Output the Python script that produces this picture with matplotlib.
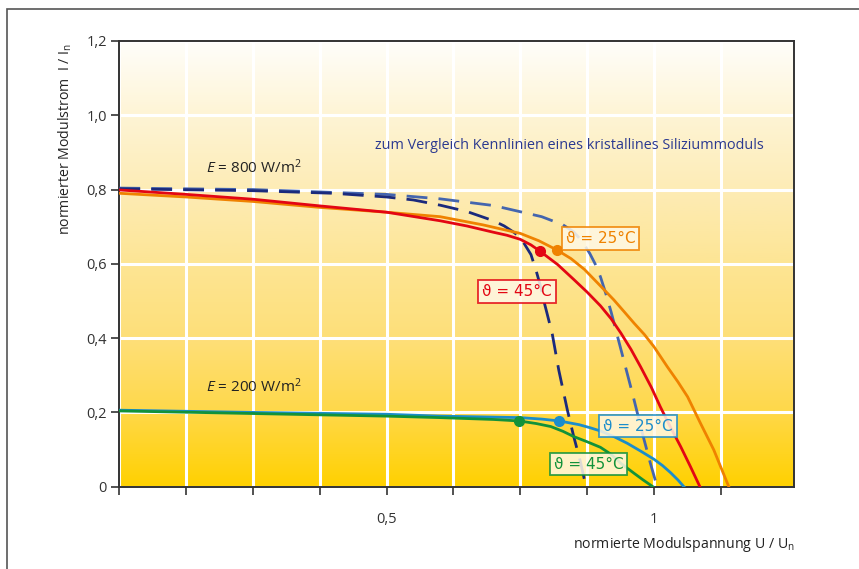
import matplotlib
matplotlib.use('Agg')
import matplotlib.pyplot as plt
import numpy as np
from matplotlib.colors import LinearSegmentedColormap
from matplotlib.patches import Rectangle

plt.rcParams['font.family'] = ['Open Sans', 'DejaVu Sans']
plt.rcParams['mathtext.fontset'] = 'custom'
plt.rcParams['mathtext.rm'] = 'Open Sans'
plt.rcParams['mathtext.it'] = 'Open Sans:italic'
plt.rcParams['mathtext.default'] = 'regular'

# thin-film module, E = 800 W/m2
u_800_25 = [0.0, 0.125, 0.25, 0.375, 0.5, 0.6, 0.68, 0.75, 0.785, 0.819, 0.845, 0.87, 0.895, 0.925,
            0.945, 0.963, 0.982, 1.0, 1.025, 1.045, 1.063, 1.087, 1.112, 1.14]
i_800_25 = [0.790, 0.780, 0.768, 0.752, 0.739, 0.727, 0.705, 0.682, 0.662, 0.637, 0.614, 0.585, 0.548, 0.503,
            0.470, 0.440, 0.410, 0.377, 0.323, 0.282, 0.242, 0.171, 0.099, 0.0]
u_800_45 = [0.0, 0.125, 0.25, 0.375, 0.5, 0.6, 0.65, 0.7, 0.725, 0.75, 0.77, 0.786, 0.82, 0.85, 0.875,
            0.9, 0.92, 0.938, 0.957, 0.975, 0.995, 1.012, 1.03, 1.05, 1.068, 1.086]
i_800_45 = [0.799, 0.787, 0.774, 0.756, 0.739, 0.716, 0.702, 0.685, 0.677, 0.666, 0.651, 0.635, 0.598, 0.558, 0.524,
            0.487, 0.452, 0.414, 0.370, 0.323, 0.268, 0.215, 0.163, 0.108, 0.055, 0.0]

# thin-film module, E = 200 W/m2
u_200_25 = [0.0, 0.25, 0.5, 0.6, 0.75, 0.79, 0.823, 0.86, 0.88, 0.9, 0.925, 0.95, 0.975, 1.0,
            1.016, 1.031, 1.045, 1.056]
i_200_25 = [0.206, 0.200, 0.195, 0.190, 0.186, 0.182, 0.177, 0.167, 0.159, 0.150, 0.135, 0.117, 0.096, 0.074,
            0.057, 0.038, 0.018, 0.0]
u_200_45 = [0.0, 0.25, 0.5, 0.6, 0.7, 0.748, 0.78, 0.807, 0.83, 0.85, 0.875, 0.9, 0.92, 0.938,
            0.963, 0.98, 0.998]
i_200_45 = [0.204, 0.197, 0.190, 0.186, 0.181, 0.177, 0.170, 0.162, 0.149, 0.135, 0.121, 0.106, 0.087, 0.063,
            0.036, 0.018, 0.0]

# crystalline silicon module for comparison (dashed)
u_krist_25 = [0.0, 0.25, 0.5, 0.6, 0.7, 0.79, 0.83, 0.85, 0.865, 0.88, 0.89, 0.9, 0.91, 0.92,
              0.93, 0.94, 0.96, 0.98, 0.993, 1.006]
i_krist_25 = [0.804, 0.800, 0.787, 0.775, 0.757, 0.727, 0.705, 0.686, 0.662, 0.628, 0.600, 0.565, 0.520, 0.470,
              0.415, 0.360, 0.250, 0.135, 0.065, 0.0]
u_krist_45 = [0.0, 0.25, 0.4, 0.5, 0.55, 0.6, 0.65, 0.7, 0.72, 0.74, 0.755, 0.77, 0.78, 0.788,
              0.795, 0.80, 0.81, 0.822, 0.838, 0.85, 0.862, 0.873]
i_krist_45 = [0.802, 0.797, 0.790, 0.780, 0.772, 0.758, 0.741, 0.716, 0.702, 0.683, 0.660, 0.625, 0.580, 0.539,
              0.495, 0.467, 0.410, 0.314, 0.207, 0.135, 0.070, 0.0]

# maximum power points
mpp_u = [0.819, 0.786, 0.823, 0.748]
mpp_i = [0.637, 0.635, 0.177, 0.177]

y_ticks = [0, 0.2, 0.4, 0.6, 0.8, 1.0, 1.2]
y_labels = ['0', '0,2', '0,4', '0,6', '0,8', '1,0', '1,2']
x_ticks = [0.125 * k for k in range(10)]
x_labels = ['', '', '', '', '0,5', '', '', '', '1', '']

c_orange = '#EF8200'
c_red = '#E30613'
c_blue = '#1B8DCB'
c_green = '#12923A'
c_navy = '#1B2A7C'
c_dblue = '#4465AE'

fig = plt.figure(figsize=(8.59, 5.69), dpi=100)
ax = fig.add_axes([119.3 / 859, 1 - 486.7 / 569, (794 - 119.3) / 859, (486.7 - 41) / 569])

xmax = 1.262
grad = LinearSegmentedColormap.from_list('bg', [
    (0.0, '#FFD100'), (0.17, '#FFD84A'), (0.33, '#FEDF78'),
    (0.5, '#FDE594'), (0.67, '#FDECB6'), (0.83, '#FEF4D4'), (1.0, '#FFFEFA')])
ax.imshow(np.linspace(0, 1, 256).reshape(-1, 1), origin='lower', cmap=grad,
          extent=[0, xmax, 0, 1.2], aspect='auto', zorder=0)

ax.set_xlim(0, xmax)
ax.set_ylim(0, 1.2)
ax.set_axisbelow(True)
ax.grid(True, color='white', linewidth=2.2)

ax.set_xticks(x_ticks)
ax.set_xticklabels(x_labels)
ax.set_yticks(y_ticks)
ax.set_yticklabels(y_labels)
ax.tick_params(axis='x', direction='out', length=6, width=1.2, pad=12,
               labelsize=10.5, colors='#333333')
ax.tick_params(axis='y', direction='out', length=6, width=1.2, pad=3,
               labelsize=10.5, colors='#333333')
for s in ax.spines.values():
    s.set_color('#333333')
    s.set_linewidth(1.4)

lw = 2.0
ax.plot(u_krist_25, i_krist_25, color=c_dblue, lw=lw, dashes=(7.5, 4), zorder=3)
ax.plot(u_krist_45, i_krist_45, color=c_navy, lw=lw, dashes=(7.5, 4), zorder=3)
ax.plot(u_800_25, i_800_25, color=c_orange, lw=lw, zorder=4, solid_joinstyle='round')
ax.plot(u_800_45, i_800_45, color=c_red, lw=lw, zorder=4, solid_joinstyle='round')
ax.plot(u_200_25, i_200_25, color=c_blue, lw=lw, zorder=4, solid_joinstyle='round')
ax.plot(u_200_45, i_200_45, color=c_green, lw=lw, zorder=4, solid_joinstyle='round')
for u, i, c in zip(mpp_u, mpp_i, [c_orange, c_red, c_blue, c_green]):
    ax.plot(u, i, 'o', color=c, ms=7, zorder=5)

def tag(x, y, text, c):
    ax.text(x, y, text, color=c, fontsize=11, ha='center', va='center', zorder=6,
            family=['DejaVu Sans'],
            bbox=dict(boxstyle='square,pad=0.25', fc='#FFF8E6', ec=c, lw=1.3, alpha=0.85))

tag(0.900, 0.669, 'ϑ = 25°C', c_orange)
tag(0.744, 0.526, 'ϑ = 45°C', c_red)
tag(0.970, 0.163, 'ϑ = 25°C', c_blue)
tag(0.878, 0.061, 'ϑ = 45°C', c_green)

ax.text(0.162, 0.858, r'$\mathit{E}$ = 800 W/m$^2$', fontsize=11, color='#222222',
        ha='left', va='center', zorder=6)
ax.text(0.162, 0.269, r'$\mathit{E}$ = 200 W/m$^2$', fontsize=11, color='#222222',
        ha='left', va='center', zorder=6)
ax.text(0.479, 0.918, 'zum Vergleich Kennlinien eines kristallines Siliziummoduls',
        fontsize=10.4, color='#2B3990', ha='left', va='center', zorder=6)

fig.text(65 / 859, 1 - 43 / 569, 'normierter Modulstrom  I / I$_n$', rotation=90,
         ha='center', va='top', fontsize=10.2, color='#222222')
fig.text(795 / 859, 1 - 545 / 569, 'normierte Modulspannung U / U$_n$',
         ha='right', va='center', fontsize=10.2, color='#222222')

# outer frame
fig.patches.append(Rectangle((7 / 859, -0.1), 1.2, 1 - 9 / 569 + 0.1,
                             transform=fig.transFigure, fill=False,
                             ec='#555555', lw=1.2))

fig.savefig('out.png', dpi=100)
